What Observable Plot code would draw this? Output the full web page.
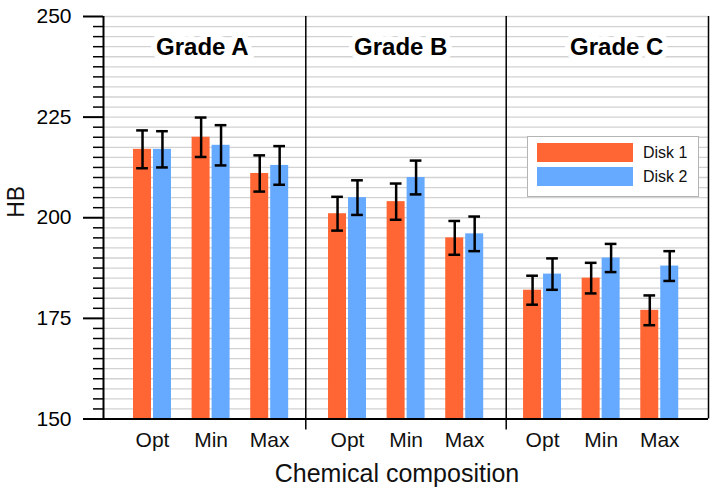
<!DOCTYPE html>
<html>
<head>
<meta charset="utf-8">
<script src="https://cdn.jsdelivr.net/npm/d3@7"></script>
<script src="https://cdn.jsdelivr.net/npm/@observablehq/plot@0.6"></script>
<style>
  html, body { margin: 0; padding: 0; background: #fff; }
  body { font-family: "Liberation Sans", Arial, sans-serif; }
  #wrap { position: relative; width: 717px; height: 492px; }
  #legend { position: absolute; left: 527px; top: 136px; width: 172px; height: 61px;
            box-sizing: border-box; border: 1px solid #b4b4b4; background: #fff; }
  .row { position: absolute; left: 9px; height: 19px; width: 160px; }
  .sw { position: absolute; left: 0; top: 0; width: 96px; height: 19px; }
  .lab { position: absolute; left: 106px; top: 0; line-height: 19px; font-size: 16px; color: #111; }
</style>
</head>
<body>
<div id="wrap"></div>
<script>
// ---- data ----
const grades = ["Grade A", "Grade B", "Grade C"];
const compositions = ["Opt", "Min", "Max"];
const disks = ["Disk 1", "Disk 2"];
const disk1 = [217, 220, 211, 201, 204, 195, 182, 185, 177];
const disk1Err = [4.7, 4.9, 4.5, 4.2, 4.5, 4.2, 3.6, 3.8, 3.7];
const disk2 = [217, 218, 213, 205, 210, 196, 186, 190, 188];
const disk2Err = [4.5, 5.0, 4.8, 4.3, 4.2, 4.3, 3.9, 3.5, 3.7];
const yTicks = [150, 175, 200, 225, 250];
const colors = ["#ff6633", "#66aaff"];

// ---- layout (in category-slot units) ----
const groupStep = 3.328;
const xDomain = [-0.836, 9.488];
const separators = [2.616, 6.036];
const panelEdges = [xDomain[0], ...separators, xDomain[1]];

const rows = [];
const cats = [];
grades.forEach((g, gi) => compositions.forEach((c, ci) => {
  const i = gi * 3 + ci;
  const pos = gi * groupStep + ci;
  cats.push({pos, c});
  rows.push({disk: disks[0], cx: pos - 0.17, x1: pos - 0.324, x2: pos - 0.017, v: disk1[i], e: disk1Err[i]});
  rows.push({disk: disks[1], cx: pos + 0.17, x1: pos + 0.017, x2: pos + 0.324, v: disk2[i], e: disk2Err[i]});
}));
const panels = grades.map((g, gi) => ({g, x: (panelEdges[gi] + panelEdges[gi + 1]) / 2 + [-0.04, -0.09, 0.16][gi]}));

const grid = d3.range(152.5, 250.01, 2.5);
const minor = d3.range(150, 250.01, 2.5).filter(v => !yTicks.includes(v));

const chart = Plot.plot({
  width: 717,
  height: 492,
  marginLeft: 103,
  marginRight: 9,
  marginTop: 16,
  marginBottom: 73.5,
  style: {fontFamily: "'Liberation Sans', Arial, sans-serif", background: "#fff", color: "#000"},
  x: {type: "linear", domain: xDomain, axis: null},
  y: {domain: [150, 250]},
  color: {domain: disks, range: colors},
  marks: [
    Plot.ruleY(grid, {stroke: "#d2d2d2", strokeWidth: 1.3}),
    Plot.rectY(rows, {x1: "x1", x2: "x2", y1: 150, y2: "v", fill: "disk"}),
    Plot.ruleX(rows, {x: "cx", y1: d => d.v - d.e, y2: d => d.v + d.e, stroke: "#000", strokeWidth: 2.5}),
    Plot.ruleY(rows, {y: d => d.v + d.e, x1: d => d.cx - 0.1, x2: d => d.cx + 0.1, stroke: "#000", strokeWidth: 2.5}),
    Plot.ruleY(rows, {y: d => d.v - d.e, x1: d => d.cx - 0.1, x2: d => d.cx + 0.1, stroke: "#000", strokeWidth: 2.5}),
    Plot.text(panels, {x: "x", frameAnchor: "top", lineAnchor: "bottom", dy: 38.3, text: "g",
      fontSize: 24, fontWeight: "bold", fill: "#000", stroke: "#fff", strokeWidth: 12, strokeLinejoin: "round"}),
    Plot.ruleX(separators, {stroke: "#000", strokeWidth: 1.5, insetBottom: -11}),
    Plot.ruleX([xDomain[1]], {stroke: "#000", strokeWidth: 1.5}),
    Plot.ruleX([xDomain[0]], {stroke: "#000", strokeWidth: 2}),
    Plot.ruleY([150], {stroke: "#000", strokeWidth: 2}),
    Plot.axisY(yTicks, {anchor: "left", tickSize: 20, tickPadding: 12, fontSize: 21, strokeWidth: 2, label: null}),
    Plot.axisY(minor, {anchor: "left", tickSize: 10, tickFormat: () => "", strokeWidth: 1.5, label: null}),
    Plot.text(cats, {x: "pos", y: 150, text: "c", lineAnchor: "bottom", dy: 28, fontSize: 21, fill: "#111"}),
    Plot.text(["Chemical composition"], {frameAnchor: "bottom", lineAnchor: "bottom", dy: 62.5, dx: -9, fontSize: 25, fill: "#111"}),
    Plot.text(["HB"], {frameAnchor: "left", rotate: -90, lineAnchor: "bottom", dx: -80, fontSize: 23, fill: "#111"})
  ]
});

const wrap = document.getElementById("wrap");
wrap.appendChild(chart);

const legend = document.createElement("div");
legend.id = "legend";
disks.forEach((d, i) => {
  const row = document.createElement("div");
  row.className = "row";
  row.style.top = (i === 0 ? 6 : 29.5) + "px";
  const sw = document.createElement("div");
  sw.className = "sw";
  sw.style.background = colors[i];
  const lab = document.createElement("div");
  lab.className = "lab";
  lab.textContent = d;
  row.appendChild(sw);
  row.appendChild(lab);
  legend.appendChild(row);
});
wrap.appendChild(legend);
</script>
</body>
</html>
